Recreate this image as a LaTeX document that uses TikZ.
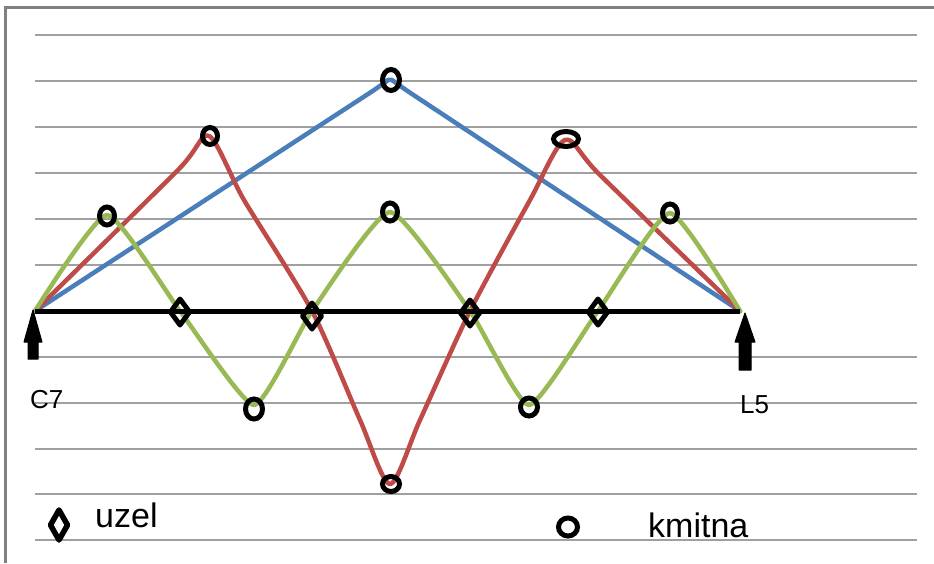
\documentclass[tikz,border=0pt]{standalone}
\usepackage{fontspec}
\setmainfont{Liberation Sans}
\usetikzlibrary{shapes.geometric}
\definecolor{xblue}{RGB}{74,126,187}
\definecolor{xred}{RGB}{190,75,72}
\definecolor{xgreen}{RGB}{152,185,84}
\definecolor{xgrid}{RGB}{160,160,160}
\definecolor{xframe}{RGB}{128,128,128}
\begin{document}
\begin{tikzpicture}[x=1pt,y=-1pt,
  gridline/.style={xgrid,line width=1.3pt},
  wave/.style={line width=4.5pt,line join=round,line cap=round},
  kmit/.style={draw=black,line width=5pt,ellipse,inner sep=0pt,minimum width=#1},
  axisline/.style={black,line width=5pt},
  lbl/.style={anchor=base west,inner sep=0pt,font=\fontsize{26}{30}\selectfont},
  leg/.style={anchor=base west,inner sep=0pt,font=\fontsize{34}{40}\selectfont},
  arrowshape/.style={fill=black,draw=black,line width=1pt,line join=round}
]
\useasboundingbox (0,0) rectangle (934,563);
\fill[white] (0,0) rectangle (934,563);
% frame
\draw[xframe,line width=3pt] (5,563) -- (5,7) -- (934,7);
% grid
\foreach \yy in {35,81,127,173,219,265,357,403,449,494,540}
  \draw[gridline] (35,\yy) -- (917,\yy);
% coordinates
\coordinate (A) at (35,311);
\coordinate (B) at (740,311);
\coordinate (btop) at (390,80);
% blue
\draw[wave,xblue] plot[smooth,tension=0.3] coordinates {(A) (365,96) (btop) (415,96) (B)};
% red
\draw[wave,xred] plot[smooth,tension=0.45] coordinates {(A) (178,170) (209,136) (244,200) (312,311) (360,420) (390,484) (420,420) (470,311) (530,200) (565,140) (600,175) (B)};
% green
\draw[wave,xgreen] plot[smooth,tension=0.3] coordinates {(A) (107,215) (180,311) (254,405) (312,311) (390,212) (470,311) (529,405) (598,311) (670,213) (B)};
% axis
\draw[axisline] (A) -- (B);
% antinodes
\node[kmit=15pt,minimum height=18pt] (k1) at (107,216) {};
\node[kmit=15pt,minimum height=17pt] (k2) at (210,136) {};
\node[kmit=17pt,minimum height=21pt] (k3) at (391,80) {};
\node[kmit=25pt,minimum height=15pt] (k4) at (566,139) {};
\node[kmit=15pt,minimum height=18pt] (k5) at (670,213) {};
\node[kmit=15pt,minimum height=18pt] (k6) at (390,212) {};
\node[kmit=17pt,minimum height=20pt] (k7) at (254,409) {};
\node[kmit=17pt,minimum height=18pt] (k8) at (529,407) {};
\node[kmit=17pt,minimum height=15pt] (k9) at (391,484) {};
% nodes (diamonds)
\foreach \nm/\xx/\yy in {d1/180/312, d2/312/316, d3/470/313, d4/598/312}{
  \coordinate (\nm) at (\xx,\yy);
  \draw[black,line width=5pt,line join=round] ([yshift=-13pt]\nm) -- ([xshift=9.5pt]\nm) -- ([yshift=13pt]\nm) -- ([xshift=-9.5pt]\nm) -- cycle;
}
% arrows
\coordinate (la) at (33,310);
\fill[arrowshape] (la) -- ++(9,32) -- ++(-4,0) -- ++(0,17) -- ++(-10,0) -- ++(0,-17) -- ++(-4,0) -- cycle;
\draw[white,line width=1.5pt] ([yshift=20pt]la) -- ([yshift=28pt]la);
\coordinate (ra) at (745,313);
\fill[arrowshape] (ra) -- ++(10,29) -- ++(-4,0) -- ++(0,28) -- ++(-12,0) -- ++(0,-28) -- ++(-4,0) -- cycle;
\draw[white,line width=1.5pt] ([yshift=18pt]ra) -- ([yshift=26pt]ra);
% labels
\node[lbl] (c7) at (30,408) {C7};
\node[lbl] (l5) at (740,413) {L5};
% legend
\coordinate (ld) at (59,525);
\draw[black,line width=5.5pt,line join=round] ([yshift=-15pt]ld) -- ([xshift=8.5pt]ld) -- ([yshift=15pt]ld) -- ([xshift=-8.5pt]ld) -- cycle;
\node[leg] (uzel) at (95,527) {uzel};
\node[kmit=19pt,minimum height=18pt] (lk) at (568,527) {};
\node[leg] (kmitna) at (648,537) {kmitna};
\end{tikzpicture}
\end{document}
